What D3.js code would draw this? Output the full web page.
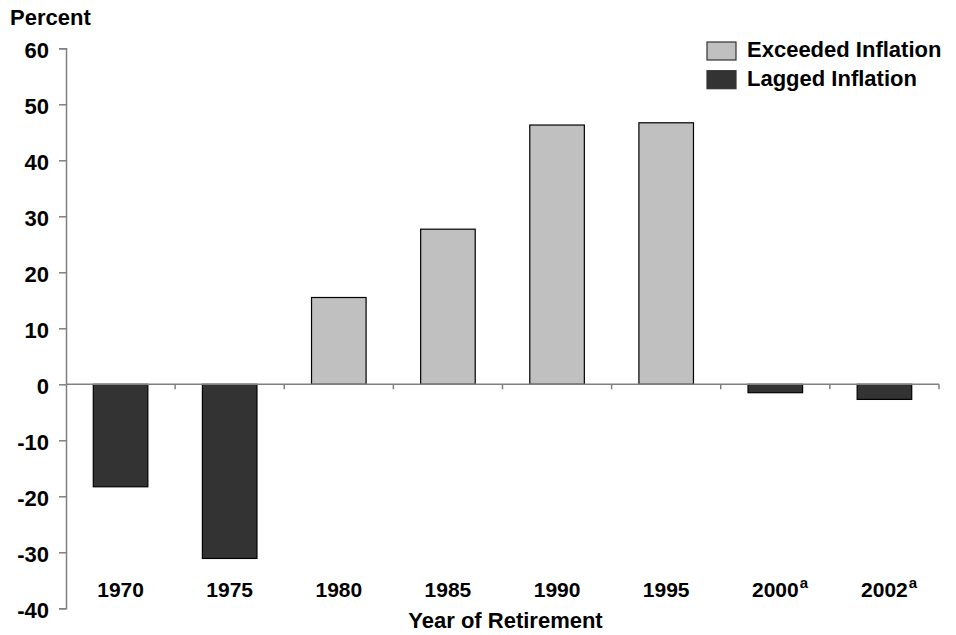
<!DOCTYPE html>
<html>
<head>
<meta charset="utf-8">
<script src="https://cdn.jsdelivr.net/npm/d3@7"></script>
<style>
  html, body { margin: 0; padding: 0; background: #fff; }
  svg { display: block; font-family: "Liberation Sans", Arial, sans-serif; font-weight: bold; }
</style>
</head>
<body>
<svg id="chart" width="956" height="635"></svg>
<script>
// Change in real value by year of retirement (percent)
const years = ["1970", "1975", "1980", "1985", "1990", "1995", "2000", "2002"];
const footnoted = ["2000", "2002"];
const values = [-18.3, -31.1, 15.5, 27.7, 46.3, 46.7, -1.5, -2.7];
const yTicks = [60, 50, 40, 30, 20, 10, 0, -10, -20, -30, -40];
const legendLabels = ["Exceeded Inflation", "Lagged Inflation"];
const colors = { up: "#c0c0c0", down: "#333333" };

const svg = d3.select("#chart");
const plot = { left: 66, right: 939, top: 48.3, bottom: 608.3 };
const axisColor = "#808080";
const fontSize = 22;

const x = d3.scaleBand().domain(years).range([plot.left, plot.right]).paddingInner(0.5).paddingOuter(0.25);
const y = d3.scaleLinear().domain([-40, 60]).range([plot.bottom, plot.top]);

// Y axis (plain hyphen for negatives)
const yAxis = svg.append("g").attr("transform", `translate(${plot.left},0)`)
  .call(d3.axisLeft(y).tickValues(yTicks).tickSize(7).tickPadding(10).tickFormat(d => String(d)));
yAxis.select(".domain").attr("stroke", axisColor).attr("stroke-width", 1.5);
yAxis.selectAll(".tick line").attr("stroke", axisColor).attr("stroke-width", 1.5);
yAxis.selectAll(".tick text")
  .attr("fill", "#000").attr("font-size", fontSize).attr("font-weight", "bold")
  .attr("font-family", "Liberation Sans, Arial, sans-serif").attr("dy", "0.4em");

// Bars
svg.append("g").selectAll("rect").data(years).join("rect")
  .attr("x", d => x(d))
  .attr("width", x.bandwidth())
  .attr("y", (d, i) => y(Math.max(0, values[i])))
  .attr("height", (d, i) => Math.abs(y(values[i]) - y(0)))
  .attr("fill", (d, i) => values[i] >= 0 ? colors.up : colors.down)
  .attr("stroke", "#000").attr("stroke-width", 1.2);

// Zero line with category separators
const zeroY = y(0);
svg.append("line").attr("x1", plot.left).attr("x2", plot.right).attr("y1", zeroY).attr("y2", zeroY)
  .attr("stroke", axisColor).attr("stroke-width", 1.5);
const boundaries = years.map(d => x(d) - x.step() * x.paddingInner() / 2).slice(1).concat([plot.right]);
svg.append("g").selectAll("line").data(boundaries).join("line")
  .attr("x1", d => d).attr("x2", d => d).attr("y1", zeroY).attr("y2", zeroY + 5)
  .attr("stroke", axisColor).attr("stroke-width", 1.5);

// Category labels, centred on the bar; footnote marker placed after the year
const catSize = 21;
const labels = svg.append("g").selectAll("text").data(years).join("text")
  .attr("x", d => x(d) + x.bandwidth() / 2)
  .attr("y", 597)
  .attr("text-anchor", "middle")
  .attr("font-size", catSize)
  .text(d => d);
labels.filter(d => footnoted.includes(d)).each(function(d) {
  const w = this.getComputedTextLength();
  svg.append("text")
    .attr("x", x(d) + x.bandwidth() / 2 + w / 2 + 1)
    .attr("y", 588)
    .attr("font-size", 15)
    .text("a");
});

// Axis titles
svg.append("text").attr("x", 10).attr("y", 25).attr("font-size", fontSize).text("Percent");
svg.append("text").attr("x", (plot.left + plot.right) / 2 + 3).attr("y", 628)
  .attr("text-anchor", "middle").attr("font-size", fontSize).text("Year of Retirement");

// Legend
const legend = svg.append("g").selectAll("g").data(legendLabels).join("g")
  .attr("transform", (d, i) => `translate(707,${42 + i * 28.7})`);
legend.append("rect").attr("width", 29).attr("height", 18)
  .attr("fill", (d, i) => i === 0 ? colors.up : colors.down)
  .attr("stroke", "#333").attr("stroke-width", 1.2);
legend.append("text").attr("x", 40).attr("y", 15).attr("font-size", fontSize).text(d => d);
</script>
</body>
</html>
